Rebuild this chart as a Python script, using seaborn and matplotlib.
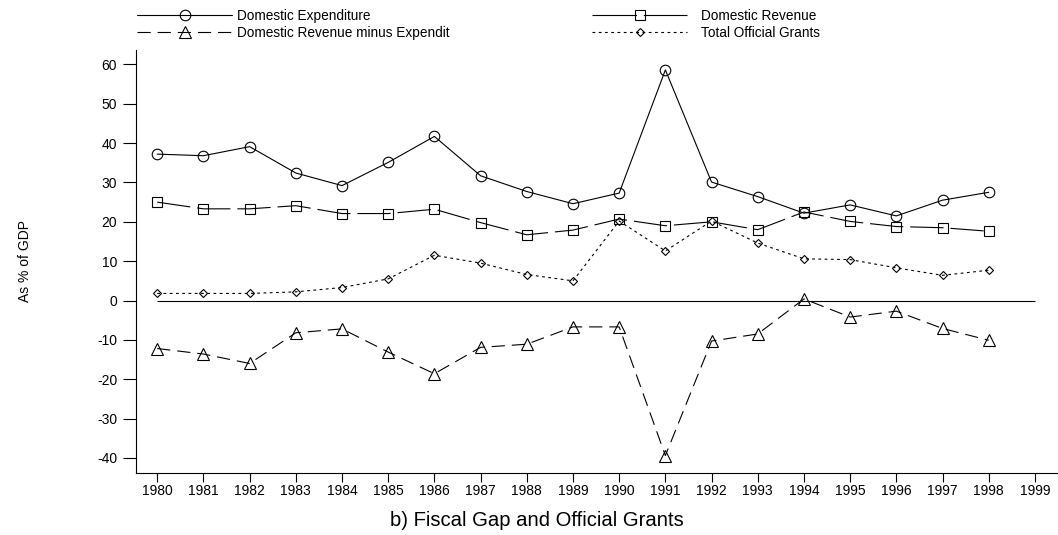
import matplotlib
matplotlib.use("Agg")
import matplotlib.pyplot as plt
from matplotlib.lines import Line2D
import seaborn as sns

# Fiscal series, as % of GDP
years = list(range(1980, 1999))
expenditure = [37.2, 36.8, 39.1, 32.4, 29.2, 35.1, 41.7, 31.7, 27.7, 24.6,
               27.3, 58.6, 30.1, 26.4, 22.2, 24.3, 21.5, 25.5, 27.5]
revenue = [25.0, 23.3, 23.3, 24.1, 22.1, 22.1, 23.2, 19.8, 16.7, 17.9,
           20.7, 19.0, 20.0, 18.0, 22.5, 20.1, 18.8, 18.5, 17.6]
gap = [-12.2, -13.6, -16.0, -8.2, -7.2, -13.1, -18.6, -11.9, -11.1, -6.7,
       -6.7, -39.4, -10.3, -8.5, 0.4, -4.2, -2.7, -7.1, -10.1]
grants = [1.8, 1.8, 1.8, 2.2, 3.3, 5.5, 11.5, 9.5, 6.6, 5.0,
          20.2, 12.6, 20.2, 14.6, 10.6, 10.4, 8.3, 6.4, 7.7]

labels = ["Domestic Expenditure", "Domestic Revenue minus Expendit",
          "Domestic Revenue", "Total Official Grants"]
xticks = list(range(1980, 2000))
yticks = list(range(-40, 61, 10))

sns.set_style("ticks")
plt.rcParams["font.family"] = ["Liberation Sans", "DejaVu Sans"]
plt.rcParams["lines.scale_dashes"] = False
plt.rcParams["text.color"] = "black"

fig = plt.figure(figsize=(10.58, 5.35), dpi=100)
ax = fig.add_axes([136 / 1058, (535 - 472.5) / 535, 1 - 136 / 1058, (472.5 - 50) / 535])

lw = 0.8
common = dict(color="black", linewidth=lw, mfc="none", mec="black", mew=0.8)

sns.lineplot(x=years, y=expenditure, ax=ax, marker="o", markersize=7.6, linestyle="-", **common)
sns.lineplot(x=years, y=gap, ax=ax, marker="^", markersize=8.4, linestyle=(0, (9.5, 5)), **common)
sns.lineplot(x=years, y=revenue, ax=ax, marker="s", markersize=7.8, linestyle=(0, (24, 5)), **common)
sns.lineplot(x=years, y=grants, ax=ax, marker="D", markersize=4.2, linestyle=(0, (2, 2.5)), **common)

# zero reference line across the year range
ax.hlines(0, xticks[0], xticks[-1], color="black", linewidth=lw)

ax.set_xlim(1979.54, 1999.5)
ax.set_ylim(-43.7, 63.66)
ax.set_xticks(xticks)
ax.set_xticklabels([str(y) for y in xticks])
ax.set_yticks(yticks)
ax.set_yticklabels([str(v) for v in yticks])
ax.tick_params(axis="x", length=6.5, width=0.8, pad=2, labelsize=10, colors="black")
ax.tick_params(axis="y", length=9.5, width=0.8, pad=4, labelsize=10, colors="black")
for side in ("top", "right"):
    ax.spines[side].set_visible(False)
for side in ("left", "bottom"):
    ax.spines[side].set_linewidth(0.8)
    ax.spines[side].set_color("black")
ax.set_xlabel("")
ax.set_ylabel("")

lines = ax.lines
# the legend key for revenue uses a longer dash so the gap falls under the marker
rev_key = Line2D([], [], marker="s", markersize=7.8, linestyle=(0, (32, 5)), **common)
handles = [lines[0], lines[1], rev_key, lines[3]]

leg_kw = dict(loc="upper left", ncol=1, frameon=False, fontsize=9.8, borderpad=0,
              borderaxespad=0, handlelength=7.0, labelspacing=0.2, numpoints=1)
fig.legend(handles[0:2], labels[0:2], bbox_to_anchor=(137 / 1058, 1 - 9 / 535),
           handletextpad=0.35, **leg_kw)
fig.legend(handles[2:4], labels[2:4], bbox_to_anchor=(592 / 1058, 1 - 9 / 535),
           handletextpad=1.0, **leg_kw)

fig.text(25 / 1058, 1 - 261 / 535, "As % of GDP", rotation=90, ha="center",
         va="center", fontsize=10, color="black")
fig.text(537 / 1058, 1 - 521 / 535, "b) Fiscal Gap and Official Grants",
         ha="center", va="center", fontsize=14.6, color="black")

fig.savefig("out.png", dpi=100)
